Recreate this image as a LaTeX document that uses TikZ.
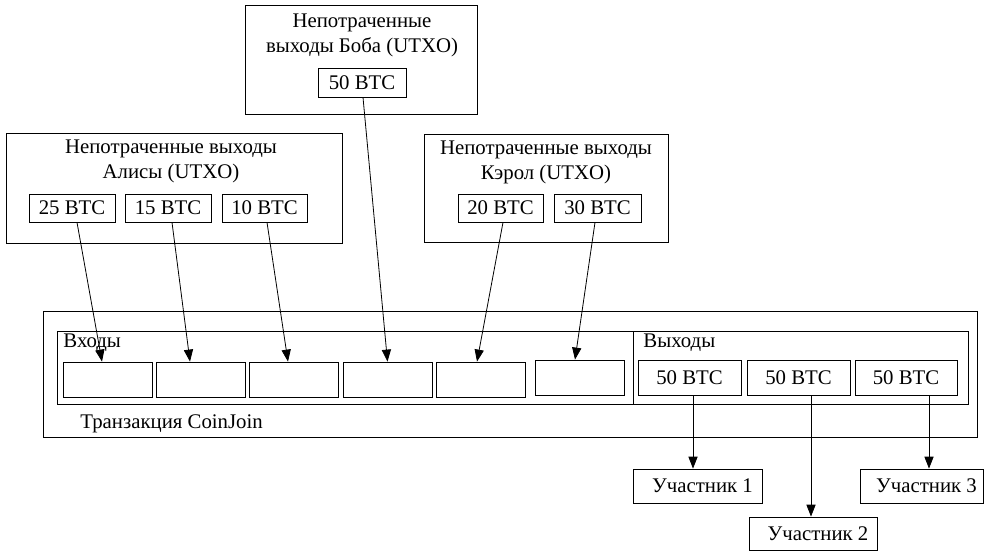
\documentclass[tikz,border=0pt]{standalone}
\usepackage{fontspec}
\setmainfont{Liberation Serif}
\usetikzlibrary{arrows.meta}

\begin{document}
\begin{tikzpicture}[x=1pt, y=-1pt, >={Triangle[length=6pt,width=4.6pt]},
  every node/.style={font=\fontsize{10.4}{12.5}\selectfont},
  box/.style={draw, rectangle, inner sep=0pt},
  title/.style={align=center, anchor=north, inner sep=0pt},
  tag/.style={anchor=west, inner sep=0pt}]
  \useasboundingbox (0,0) rectangle (492,275.5);

  % Bob's outputs
  \node[box, minimum width=116pt, minimum height=54.5pt] (bob) at (180.5,29.75) {};
  \node[title] (bobtitle) at (181,6.5) {Непотраченные\\выходы Боба (UTXO)};
  \node[box, minimum width=44pt, minimum height=14.5pt] (b50) at (181,41.25) {50 BTC};

  % Alice's outputs
  \node[box, minimum width=168pt, minimum height=55pt] (alice) at (87,94) {};
  \node[title] (alicetitle) at (85.5,69.5) {Непотраченные выходы\\Алисы (UTXO)};
  \node[box, minimum width=43pt, minimum height=14pt] (a25) at (36,104) {25 BTC};
  \node[box, minimum width=43pt, minimum height=14pt] (a15) at (84,104) {15 BTC};
  \node[box, minimum width=42.5pt, minimum height=14pt] (a10) at (132.25,104) {10 BTC};

  % Carol's outputs
  \node[box, minimum width=122pt, minimum height=54pt] (carol) at (273,94) {};
  \node[title] (caroltitle) at (273,70) {Непотраченные выходы\\Кэрол (UTXO)};
  \node[box, minimum width=42.5pt, minimum height=14pt] (c20) at (250.25,104) {20 BTC};
  \node[box, minimum width=43.5pt, minimum height=14pt] (c30) at (298.75,104) {30 BTC};

  % Transaction
  \node[box, minimum width=467pt, minimum height=63pt] (tx) at (255,187) {};
  \node[tag] (txname) at (40,212) {Транзакция CoinJoin};
  \node[box, minimum width=288pt, minimum height=36.5pt] (inputs) at (172.5,183.75) {};
  \node[box, minimum width=167.5pt, minimum height=36.5pt] (outputs) at (400.25,183.75) {};
  \node[tag] (inname) at (31.5,171.5) {Входы};
  \node[tag] (outname) at (321.5,171.5) {Выходы};

  \node[box, minimum width=44.5pt, minimum height=17.5pt] (in1) at (53.75,189.75) {};
  \node[box, minimum width=44.5pt, minimum height=17.5pt] (in2) at (100.25,189.75) {};
  \node[box, minimum width=44.5pt, minimum height=17.5pt] (in3) at (146.75,189.75) {};
  \node[box, minimum width=44.5pt, minimum height=17.5pt] (in4) at (193.75,189.75) {};
  \node[box, minimum width=44.5pt, minimum height=17.5pt] (in5) at (240.25,189.75) {};
  \node[box, minimum width=44.5pt, minimum height=17.5pt] (in6) at (289.75,188.75) {};

  \node[box, minimum width=51.5pt, minimum height=17.5pt] (out1) at (344.75,188.75) {50 BTC};
  \node[box, minimum width=51.5pt, minimum height=17.5pt] (out2) at (399.25,188.75) {50 BTC};
  \node[box, minimum width=51pt, minimum height=17.5pt] (out3) at (453,188.75) {50 BTC};

  % Participants
  \node[box, minimum width=64.5pt, minimum height=17pt] (p1) at (348.75,243) {\hspace{5pt}Участник 1};
  \node[box, minimum width=64pt, minimum height=16.5pt] (p2) at (406.5,266.75) {\hspace{5pt}Участник 2};
  \node[box, minimum width=61.5pt, minimum height=17pt] (p3) at (460.75,243) {\hspace{5pt}Участник 3};

  % Inputs of the transaction
  \draw[->] ([xshift=2.5pt]a25.south) -- ([xshift=-2.75pt]in1.north);
  \draw[->] ([xshift=2pt]a15.south) -- ([xshift=-5.25pt]in2.north);
  \draw[->] ([xshift=1.25pt]a10.south) -- ([xshift=-2.75pt]in3.north);
  \draw[->] ([xshift=0.5pt]b50.south) -- (in4.north);
  \draw[->] ([xshift=1.25pt]c20.south) -- ([xshift=-1.75pt]in5.north);
  \draw[->] ([xshift=-1.25pt]c30.south) -- ([xshift=-2.25pt]in6.north);

  % Outputs to participants
  \draw[->] ([xshift=1.75pt]out1.south) -- ([xshift=1.75pt]out1.south |- p1.north);
  \draw[->] ([xshift=6.25pt]out2.south) -- ([xshift=6.25pt]out2.south |- p2.north);
  \draw[->] ([xshift=11.5pt]out3.south) -- ([xshift=11.5pt]out3.south |- p3.north);
\end{tikzpicture}
\end{document}
